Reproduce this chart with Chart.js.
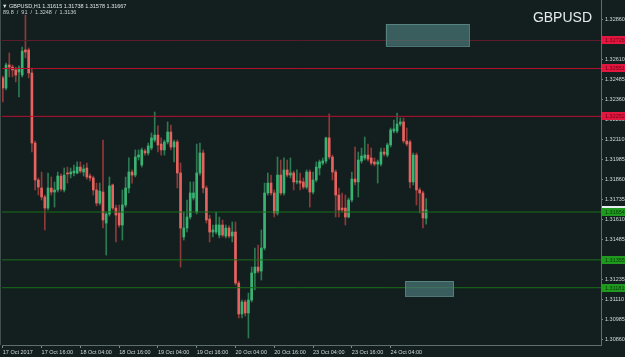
<!DOCTYPE html>
<html>
<head>
<meta charset="utf-8">
<script src="https://cdn.jsdelivr.net/npm/chart.js@4.4.1/dist/chart.umd.min.js"></script>
<style>
  html, body { margin: 0; padding: 0; background: #131e1e; }
  #wrap { width: 625px; height: 357px; }
</style>
</head>
<body>
<div id="wrap"><canvas id="chart" width="625" height="357"></canvas></div>
<script>
// GBPUSD H1, 17 Oct 04:00 .. 24 Oct 15:00 (one value per bar)
const opens = [
  1.32492, 1.32429, 1.32573, 1.32560, 1.32542, 1.32529, 1.32510, 1.32667, 1.32667, 1.32523,
  1.32085, 1.31854, 1.31804, 1.31748, 1.31679, 1.31804, 1.31779, 1.31792, 1.31879, 1.31792,
  1.31898, 1.31892, 1.31898, 1.31898, 1.31935, 1.31904, 1.31929, 1.31879, 1.31867, 1.31792,
  1.31710, 1.31779, 1.31585, 1.31642, 1.31823, 1.31679, 1.31648, 1.31573, 1.31698, 1.31804,
  1.31904, 1.31885, 1.31998, 1.31948, 1.32035, 1.32023, 1.32054, 1.32104, 1.32135, 1.32079,
  1.32042, 1.32092, 1.32154, 1.32060, 1.32092, 1.31898, 1.31498, 1.31554, 1.31623, 1.31742,
  1.31654, 1.31898, 1.32023, 1.31804, 1.31610, 1.31529, 1.31529, 1.31510, 1.31573, 1.31504,
  1.31554, 1.31504, 1.31529, 1.31210, 1.31017, 1.31092, 1.31023, 1.31104, 1.31273, 1.31310,
  1.31285, 1.31429, 1.31773, 1.31835, 1.31773, 1.31648, 1.31885, 1.31773, 1.31917, 1.31885,
  1.31898, 1.31842, 1.31848, 1.31842, 1.31810, 1.31904, 1.31779, 1.31854, 1.31929, 1.31960,
  1.31973, 1.32117, 1.31998, 1.31904, 1.31760, 1.31679, 1.31679, 1.31623, 1.31729, 1.31860,
  1.31842, 1.31973, 1.31992, 1.32010, 1.31992, 1.31967, 1.31954, 1.31954, 1.32029, 1.32010,
  1.32073, 1.32160, 1.32160, 1.32204, 1.32217, 1.32098, 1.32092, 1.31842, 1.32010, 1.31792,
  1.31773, 1.31615
];
const highs = [
  1.32504, 1.32585, 1.32648, 1.32573, 1.32560, 1.32567, 1.32685, 1.32885, 1.32679, 1.32554,
  1.32098, 1.31867, 1.31904, 1.31760, 1.31898, 1.31873, 1.31842, 1.31904, 1.31892, 1.31929,
  1.31935, 1.31929, 1.31948, 1.31967, 1.31967, 1.31948, 1.31960, 1.31892, 1.31879, 1.31835,
  1.31835, 1.32104, 1.31654, 1.31873, 1.31829, 1.31698, 1.31698, 1.31792, 1.31873, 1.31992,
  1.31917, 1.32042, 1.32042, 1.32054, 1.32048, 1.32085, 1.32148, 1.32279, 1.32192, 1.32117,
  1.32104, 1.32217, 1.32198, 1.32104, 1.32104, 1.31960, 1.31654, 1.31729, 1.31842, 1.31842,
  1.32079, 1.32085, 1.32042, 1.31817, 1.31635, 1.31573, 1.31654, 1.31623, 1.31604, 1.31573,
  1.31567, 1.31592, 1.31592, 1.31223, 1.31104, 1.31104, 1.31148, 1.31310, 1.31429, 1.31448,
  1.31542, 1.31835, 1.31898, 1.31885, 1.31792, 1.31998, 1.31979, 1.31992, 1.31979, 1.31992,
  1.31910, 1.31917, 1.31898, 1.31867, 1.31917, 1.31917, 1.31904, 1.31967, 1.31979, 1.31992,
  1.32123, 1.32267, 1.32010, 1.31917, 1.31804, 1.31773, 1.31760, 1.31742, 1.31904, 1.32060,
  1.32029, 1.32054, 1.32123, 1.32079, 1.32054, 1.31992, 1.31979, 1.32054, 1.32054, 1.32085,
  1.32179, 1.32229, 1.32273, 1.32242, 1.32242, 1.32179, 1.32104, 1.32023, 1.32023, 1.31804,
  1.31785, 1.31738
];
const lows = [
  1.32342, 1.32417, 1.32498, 1.32498, 1.32467, 1.32373, 1.32498, 1.32617, 1.32492, 1.32029,
  1.31792, 1.31760, 1.31729, 1.31542, 1.31667, 1.31760, 1.31685, 1.31779, 1.31785, 1.31779,
  1.31835, 1.31867, 1.31879, 1.31892, 1.31898, 1.31879, 1.31860, 1.31848, 1.31760, 1.31692,
  1.31698, 1.31554, 1.31385, 1.31629, 1.31667, 1.31467, 1.31560, 1.31479, 1.31685, 1.31773,
  1.31835, 1.31873, 1.31979, 1.31935, 1.32010, 1.32010, 1.32042, 1.32092, 1.32029, 1.32010,
  1.32010, 1.32079, 1.32042, 1.31967, 1.31804, 1.31310, 1.31479, 1.31529, 1.31610, 1.31729,
  1.31642, 1.31885, 1.31773, 1.31585, 1.31467, 1.31498, 1.31517, 1.31492, 1.31498, 1.31492,
  1.31492, 1.31467, 1.31198, 1.30992, 1.30992, 1.31004, 1.30867, 1.31092, 1.31167, 1.31273,
  1.31229, 1.31417, 1.31760, 1.31760, 1.31623, 1.31635, 1.31760, 1.31760, 1.31873, 1.31867,
  1.31792, 1.31829, 1.31792, 1.31798, 1.31798, 1.31685, 1.31767, 1.31842, 1.31885, 1.31948,
  1.31960, 1.31985, 1.31854, 1.31623, 1.31623, 1.31654, 1.31573, 1.31617, 1.31717, 1.31823,
  1.31748, 1.31960, 1.31979, 1.31973, 1.31948, 1.31942, 1.31835, 1.31942, 1.32004, 1.31998,
  1.32060, 1.32148, 1.32148, 1.32192, 1.32085, 1.32067, 1.31804, 1.31823, 1.31698, 1.31648,
  1.31554, 1.31578
];
const closes = [
  1.32429, 1.32573, 1.32560, 1.32542, 1.32510, 1.32554, 1.32660, 1.32654, 1.32523, 1.32085,
  1.31854, 1.31810, 1.31748, 1.31679, 1.31804, 1.31779, 1.31792, 1.31879, 1.31798, 1.31885,
  1.31892, 1.31904, 1.31910, 1.31935, 1.31910, 1.31923, 1.31873, 1.31867, 1.31792, 1.31710,
  1.31785, 1.31604, 1.31642, 1.31817, 1.31679, 1.31635, 1.31573, 1.31698, 1.31804, 1.31904,
  1.31885, 1.31998, 1.32010, 1.32042, 1.32023, 1.32067, 1.32117, 1.32135, 1.32073, 1.32042,
  1.32092, 1.32154, 1.32060, 1.32092, 1.31898, 1.31554, 1.31554, 1.31623, 1.31773, 1.31773,
  1.31898, 1.32023, 1.31804, 1.31604, 1.31529, 1.31542, 1.31573, 1.31573, 1.31510, 1.31554,
  1.31504, 1.31529, 1.31210, 1.31017, 1.31092, 1.31023, 1.31104, 1.31273, 1.31310, 1.31285,
  1.31429, 1.31773, 1.31835, 1.31773, 1.31648, 1.31885, 1.31773, 1.31917, 1.31885, 1.31898,
  1.31842, 1.31848, 1.31835, 1.31810, 1.31904, 1.31779, 1.31854, 1.31935, 1.31967, 1.31973,
  1.32117, 1.31998, 1.31904, 1.31760, 1.31667, 1.31667, 1.31623, 1.31729, 1.31860, 1.31842,
  1.31979, 1.32004, 1.32010, 1.31985, 1.31960, 1.31954, 1.31967, 1.32029, 1.32017, 1.32073,
  1.32167, 1.32173, 1.32204, 1.32217, 1.32098, 1.32079, 1.31842, 1.32010, 1.31792, 1.31773,
  1.31617, 1.31667
];

// time axis labels and the bar they sit on
const timeLabels = ["17 Oct 2017", "17 Oct 16:00", "18 Oct 04:00", "18 Oct 16:00", "19 Oct 04:00",
  "19 Oct 16:00", "20 Oct 04:00", "20 Oct 16:00", "23 Oct 04:00", "23 Oct 16:00", "24 Oct 04:00"];
const timeLabelBars = [0, 12, 24, 36, 48, 60, 72, 84, 96, 108, 120];

// price axis
const priceTicks = [1.32860, 1.32735, 1.32610, 1.32485, 1.32360, 1.32235, 1.32110, 1.31985,
  1.31860, 1.31735, 1.31610, 1.31485, 1.31360, 1.31235, 1.31110, 1.30985, 1.30860];

// horizontal levels drawn on the chart
const levelPrices = [1.32726, 1.32551, 1.32252, 1.31654, 1.31355, 1.31181];
const levelColors = ["#5e1d2b", "#b5122f", "#b5122f", "#1b6f1b", "#1b6f1b", "#1b6f1b"];
const levelLabelColors = ["#e2163f", "#e2163f", "#e2163f", "#1f9a1f", "#1f9a1f", "#1f9a1f"];

// rectangles (bar index range, price range)
const boxFromBar = [118.5, 124.6];
const boxToBar = [144.3, 139.5];
const boxTop = [1.32829, 1.31223];
const boxBottom = [1.32692, 1.31129];

// indicator line under the title
const infoValues = ["89.8", "91", "1.3248", "1.3136"];

const X_MIN = -0.25, X_MAX = 185.1;
const Y_MIN = 1.30823, Y_MAX = 1.32979;

const BULL = "#38b372", BEAR = "#e5625f";
const BULL_WICK = "#2b7a52", BEAR_WICK = "#8e3a3a";

const isBull = opens.map((o, i) => closes[i] >= o);

const wickData = opens.map((o, i) => ({ x: i, y: [lows[i], highs[i]] }));
const bodyData = opens.map((o, i) => ({ x: i, y: [o, closes[i]] }));

const levelSets = levelPrices.map((p, i) => ({
  type: "line",
  data: [{ x: X_MIN, y: p }, { x: X_MAX, y: p }],
  borderColor: levelColors[i],
  borderWidth: 1,
  pointRadius: 0,
  order: -1
}));

const font = '"Liberation Sans", Arial, sans-serif';
const SMALL = 5.5;

const overlay = {
  id: "overlay",
  beforeDraw(chart) {
    const ctx = chart.ctx;
    ctx.save();
    ctx.fillStyle = "#131e1e";
    ctx.fillRect(0, 0, chart.width, chart.height);
    ctx.restore();
  },
  afterDatasetsDraw(chart) {
    const { ctx, scales: { x, y } } = chart;
    ctx.save();
    for (let i = 0; i < boxFromBar.length; i++) {
      const x0 = x.getPixelForValue(boxFromBar[i]);
      const x1 = x.getPixelForValue(boxToBar[i]);
      const y0 = y.getPixelForValue(boxTop[i]);
      const y1 = y.getPixelForValue(boxBottom[i]);
      ctx.fillStyle = "rgba(75,120,120,0.7)";
      ctx.fillRect(x0, y0, x1 - x0, y1 - y0);
      ctx.strokeStyle = "rgba(95,140,140,0.8)";
      ctx.lineWidth = 1;
      ctx.strokeRect(Math.round(x0) + 0.5, Math.round(y0) + 0.5, Math.round(x1 - x0), Math.round(y1 - y0));
    }
    ctx.restore();
  },
  afterDraw(chart) {
    const { ctx, chartArea, scales: { y } } = chart;
    ctx.save();
    // left frame line
    ctx.strokeStyle = "#3f4d4d";
    ctx.lineWidth = 1;
    ctx.beginPath();
    ctx.moveTo(0.5, 0);
    ctx.lineTo(0.5, chartArea.bottom);
    ctx.stroke();

    // price labels on the right axis
    const labelX = chartArea.right + 1;
    const drawLabel = (price, bg, fg) => {
      const py = Math.round(y.getPixelForValue(price));
      ctx.fillStyle = bg;
      ctx.fillRect(labelX, py - 4, chart.width - labelX, 8);
      ctx.fillStyle = fg;
      ctx.font = SMALL + "px " + font;
      ctx.textAlign = "left";
      ctx.textBaseline = "middle";
      ctx.fillText(price.toFixed(5), labelX + 3, py + 0.5);
    };
    drawLabel(closes[closes.length - 1], "#e8eeee", "#202020");
    levelPrices.forEach((p, i) => {
      const fg = i < 3 ? "rgba(90,0,20,0.9)" : "rgba(0,50,0,0.9)";
      drawLabel(p, levelLabelColors[i], fg);
    });

    // header lines
    const last = opens.length - 1;
    ctx.fillStyle = "#dfe5e5";
    ctx.font = SMALL + "px " + font;
    ctx.textAlign = "left";
    ctx.textBaseline = "alphabetic";
    ctx.fillText("\u25BC", 2, 8);
    ctx.fillText("GBPUSD,H1 " + [opens[last], highs[last], lows[last], closes[last]].map(v => v.toFixed(5)).join(" "), 9, 8);
    ctx.fillStyle = "#c9d0d0";
    ctx.fillText(infoValues.join("  /  "), 3, 14);

    // symbol title
    ctx.fillStyle = "#e6ecec";
    ctx.font = "14px " + font;
    ctx.textAlign = "right";
    ctx.fillText("GBPUSD", 592, 22);
    ctx.restore();
  }
};

new Chart(document.getElementById("chart").getContext("2d"), {
  type: "bar",
  data: {
    datasets: [
      {
        data: bodyData,
        backgroundColor: isBull.map(b => b ? BULL : BEAR),
        barThickness: 2,
        minBarLength: 1,
        grouped: false,
        borderWidth: 0,
        order: 0
      },
      {
        data: wickData,
        backgroundColor: isBull.map(b => b ? BULL_WICK : BEAR_WICK),
        barThickness: 1,
        grouped: false,
        borderWidth: 0,
        order: 1
      },
      ...levelSets
    ]
  },
  options: {
    responsive: false,
    devicePixelRatio: 1,
    animation: false,
    layout: { padding: { left: 2, top: 0, right: 0, bottom: 0 } },
    plugins: { legend: { display: false }, tooltip: { enabled: false } },
    scales: {
      x: {
        type: "linear",
        min: X_MIN,
        max: X_MAX,
        offset: false,
        grid: { offset: false, drawOnChartArea: false, drawTicks: true, tickLength: 3, color: "#7b8989" },
        border: { display: true, color: "#5f6d6d" },
        ticks: {
          align: "start",
          autoSkip: false,
          maxRotation: 0,
          padding: 1,
          color: "#d2d9d9",
          font: { size: SMALL, family: font },
          callback: (v) => {
            const k = timeLabelBars.indexOf(v);
            return k >= 0 ? timeLabels[k] : null;
          }
        },
        afterBuildTicks: (axis) => { axis.ticks = timeLabelBars.map(v => ({ value: v })); },
        afterFit: (axis) => { axis.height = 12; axis.paddingLeft = 0; axis.paddingRight = 0; }
      },
      y: {
        type: "linear",
        position: "right",
        min: Y_MIN,
        max: Y_MAX,
        grid: { drawOnChartArea: false, drawTicks: true, tickLength: 2, color: "#7b8989" },
        border: { display: true, color: "#5f6d6d" },
        ticks: {
          padding: 2,
          color: "#d2d9d9",
          font: { size: SMALL, family: font },
          callback: (v) => v.toFixed(5)
        },
        afterBuildTicks: (axis) => { axis.ticks = priceTicks.map(v => ({ value: v })); },
        afterFit: (axis) => { axis.width = 24; axis.paddingTop = 0; axis.paddingBottom = 0; }
      }
    }
  },
  plugins: [overlay]
});
</script>
</body>
</html>
